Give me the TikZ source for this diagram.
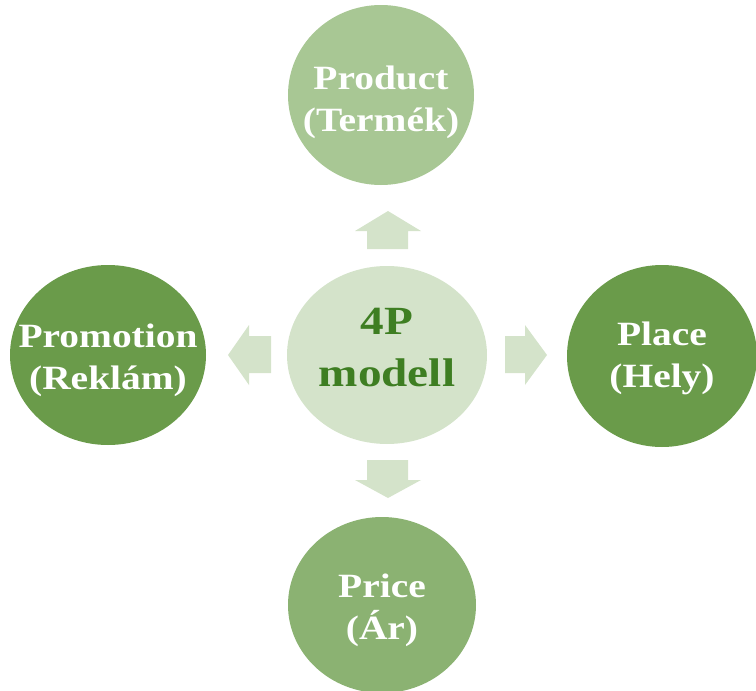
\documentclass[tikz,border=0pt]{standalone}
\usepackage{fontspec}
\setmainfont{Liberation Serif}
\newfontfamily\outfont[FakeStretch=1.16]{Liberation Serif}
\newfontfamily\cenfont[FakeStretch=1.18]{Liberation Serif}
\usetikzlibrary{shapes.geometric}
\definecolor{cProduct}{HTML}{A8C794}
\definecolor{cCenter}{HTML}{D4E3CA}
\definecolor{cDark}{HTML}{6A9B4A}
\definecolor{cPrice}{HTML}{8BB272}
\definecolor{cText}{HTML}{3E7E22}
\tikzset{
  blob/.style={ellipse, inner sep=0pt, draw=none},
  blobtext/.style={inner sep=0pt, align=center, text=white,
    font=\outfont\bfseries\fontsize{34}{42}\selectfont},
  arrowshape/.style={fill=cCenter, draw=none}
}
\begin{document}
\begin{tikzpicture}[x=1pt,y=-1pt]
\useasboundingbox (0,0) rectangle (756,691);
\node[blob, fill=cCenter, minimum width=200pt, minimum height=178pt] (center) at (387,355) {};
\node[blob, fill=cProduct, minimum width=186pt, minimum height=180pt] (product) at (381,95) {};
\node[blob, fill=cDark, minimum width=196pt, minimum height=180pt] (promotion) at (108,355) {};
\node[blob, fill=cDark, minimum width=190pt, minimum height=182pt] (place) at (662,356) {};
\node[blob, fill=cPrice, minimum width=188pt, minimum height=176pt] (price) at (382,605) {};
\node[blobtext, text=cText, font=\cenfont\bfseries\fontsize{40}{52}\selectfont]
  (centertext) at ([yshift=7pt]center.center) {4P\\modell};
\node[blobtext] (producttext) at ([yshift=-7pt]product.center) {Product\\(Termék)};
\node[blobtext] (promotiontext) at ([yshift=-5pt]promotion.center) {Promotion\\(Reklám)};
\node[blobtext] (placetext) at ([yshift=-2pt]place.center) {Place\\(Hely)};
\node[blobtext] (pricetext) at ([yshift=-5pt]price.center) {Price\\(Ár)};
% up arrow
\fill[arrowshape] (367,249) -- (367,231) -- (355,231) -- (388,211) -- (421,231) -- (408,231) -- (408,249) -- cycle;
% down arrow
\fill[arrowshape] (367,460) -- (367,480) -- (355,480) -- (388,498) -- (421,480) -- (408,480) -- (408,460) -- cycle;
% left arrow
\fill[arrowshape] (271,336) -- (249,336) -- (249,325) -- (228,355) -- (249,385) -- (249,373) -- (271,373) -- cycle;
% right arrow
\fill[arrowshape] (505,336) -- (525,336) -- (525,325) -- (547,355) -- (525,385) -- (525,373) -- (505,373) -- cycle;
\end{tikzpicture}
\end{document}
